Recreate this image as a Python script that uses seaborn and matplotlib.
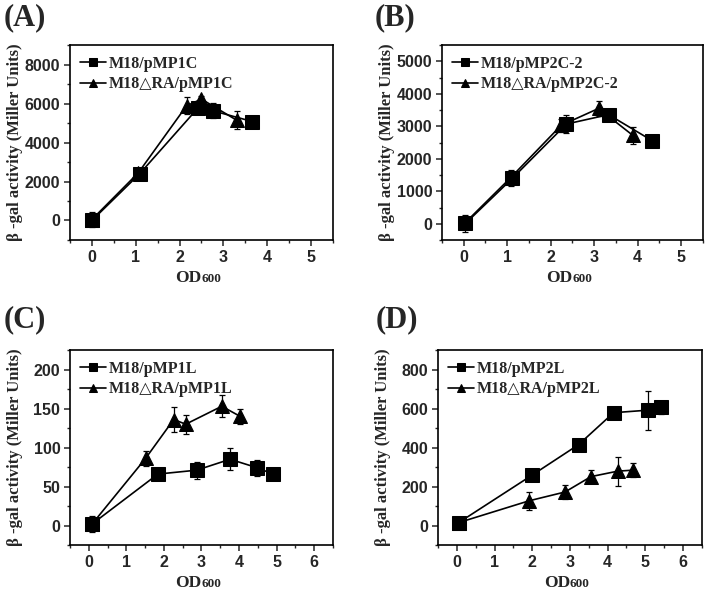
import pandas as pd
import seaborn as sns
import matplotlib
matplotlib.use('Agg')
import matplotlib.pyplot as plt
from matplotlib.ticker import MultipleLocator

# ---- data ----
# (A) pMP1C
a_sq_od = [0.0, 1.09, 2.41, 2.76, 3.66]
a_sq_act = [0, 2400, 5750, 5630, 5080]
a_sq_err = [200, 250, 150, 380, 100]
a_tri_od = [0.0, 1.06, 2.16, 2.50, 3.30]
a_tri_act = [50, 2450, 5890, 6230, 5150]
a_tri_err = [380, 200, 430, 150, 450]
a_labels = ['M18/pMP1C', 'M18\u25b3RA/pMP1C']

# (B) pMP2C-2
b_sq_od = [0.04, 1.12, 2.36, 3.33, 4.33]
b_sq_act = [10, 1400, 3070, 3360, 2560]
b_sq_err = [250, 150, 280, 100, 100]
b_tri_od = [0.04, 1.08, 2.24, 3.10, 3.89]
b_tri_act = [40, 1420, 3030, 3550, 2720]
b_tri_err = [150, 250, 200, 230, 270]
b_labels = ['M18/pMP2C-2', 'M18\u25b3RA/pMP2C-2']

# (C) pMP1L
c_sq_od = [0.09, 1.84, 2.87, 3.76, 4.49, 4.90]
c_sq_act = [2, 66, 71, 85, 74, 66]
c_sq_err = [10, 3, 11, 14, 10, 8]
c_tri_od = [0.09, 1.51, 2.26, 2.58, 3.54, 4.03]
c_tri_act = [2, 86, 136, 130, 153, 140]
c_tri_err = [5, 10, 16, 12, 14, 10]
c_labels = ['M18/pMP1L', 'M18\u25b3RA/pMP1L']

# (D) pMP2L
d_sq_od = [0.05, 2.00, 3.23, 4.16, 5.07, 5.42]
d_sq_act = [15, 259, 415, 579, 592, 606]
d_sq_err = [10, 15, 25, 10, 100, 35]
d_tri_od = [0.05, 1.92, 2.87, 3.56, 4.27, 4.67]
d_tri_act = [15, 127, 172, 251, 279, 284]
d_tri_err = [10, 45, 35, 35, 75, 37]
d_labels = ['M18/pMP2L', 'M18\u25b3RA/pMP2L']

sns.set_style('ticks')
plt.rcParams['font.family'] = ['Liberation Sans', 'DejaVu Sans']
plt.rcParams['font.weight'] = 'bold'
plt.rcParams['axes.linewidth'] = 1.2

SANS = ['Liberation Sans', 'DejaVu Sans']
SERIF = ['Liberation Serif', 'DejaVu Serif']

fig = plt.figure(figsize=(7.09, 5.94), dpi=100)


def panel(rect, letter, letter_xy, sq, tri, labels, ylim, ymaj, xlim):
    ax = fig.add_axes(rect)
    # error bars first so the markers sit on top
    for (x, y, e) in (sq, tri):
        ax.errorbar(x, y, yerr=e, fmt='none', ecolor='k', elinewidth=0.9,
                    capsize=2.5, capthick=0.9, zorder=1)
    sns.lineplot(x=sq[0], y=sq[1], color='k', marker='s', markersize=9.5,
                 markeredgecolor='k', linewidth=1.2, label=labels[0],
                 sort=False, ax=ax, zorder=3)
    sns.lineplot(x=tri[0], y=tri[1], color='k', marker='^', markersize=10.5,
                 markeredgecolor='k', linewidth=1.2, label=labels[1],
                 sort=False, ax=ax, zorder=3)
    ax.set_xlim(*xlim)
    ax.set_ylim(*ylim)
    ax.xaxis.set_major_locator(MultipleLocator(1))
    ax.xaxis.set_minor_locator(MultipleLocator(0.5))
    ax.yaxis.set_major_locator(MultipleLocator(ymaj))
    ax.yaxis.set_minor_locator(MultipleLocator(ymaj / 2))
    ax.tick_params(which='major', direction='out', length=4, width=1.1,
                   labelsize=11.5, pad=3)
    ax.tick_params(which='minor', direction='out', length=2.5, width=1.0)
    for lab in ax.get_xticklabels() + ax.get_yticklabels():
        lab.set_fontfamily(SANS)
        lab.set_fontweight('bold')
    for sp in ax.spines.values():
        sp.set_visible(True)
        sp.set_linewidth(1.2)
        sp.set_color('k')

    ax.set_xlabel('')
    ax.set_ylabel('\u03b2 -gal activity (Miller Units)', family=SERIF,
                  fontsize=12, fontweight='bold')
    ax.yaxis.set_label_coords(-0.18, 0.5)
    ax.text(0.5, -0.215, 'OD', transform=ax.transAxes, ha='right',
            va='baseline', family=SERIF, fontsize=12.5, fontweight='bold')
    ax.text(0.5, -0.215, '600', transform=ax.transAxes, ha='left',
            va='baseline', family=SERIF, fontsize=9.5, fontweight='bold')

    ax.legend(loc='upper left', frameon=False, handlelength=1.6,
              handletextpad=0.15, labelspacing=0.3, borderaxespad=0.25,
              markerscale=0.6,
              prop={'family': SERIF, 'weight': 'bold', 'size': 11.5})

    fig.text(letter_xy[0] / 709, 1 - letter_xy[1] / 594, letter,
             family=SERIF, fontsize=22, fontweight='bold', va='top', ha='left')
    return ax


panel([0.0987, 0.596, 0.371, 0.328], '(A)', (4, 3),
      (a_sq_od, a_sq_act, a_sq_err), (a_tri_od, a_tri_act, a_tri_err),
      a_labels, (-1000, 9000), 2000, (-0.5, 5.5))
panel([0.6234, 0.596, 0.368, 0.328], '(B)', (375, 3),
      (b_sq_od, b_sq_act, b_sq_err), (b_tri_od, b_tri_act, b_tri_err),
      b_labels, (-500, 5500), 1000, (-0.5, 5.5))
panel([0.0987, 0.0825, 0.371, 0.328], '(C)', (4, 305),
      (c_sq_od, c_sq_act, c_sq_err), (c_tri_od, c_tri_act, c_tri_err),
      c_labels, (-25, 225), 50, (-0.5, 6.5))
panel([0.6178, 0.0825, 0.372, 0.328], '(D)', (376, 305),
      (d_sq_od, d_sq_act, d_sq_err), (d_tri_od, d_tri_act, d_tri_err),
      d_labels, (-100, 900), 200, (-0.5, 6.5))

fig.savefig('out.png', dpi=100, facecolor='white')
